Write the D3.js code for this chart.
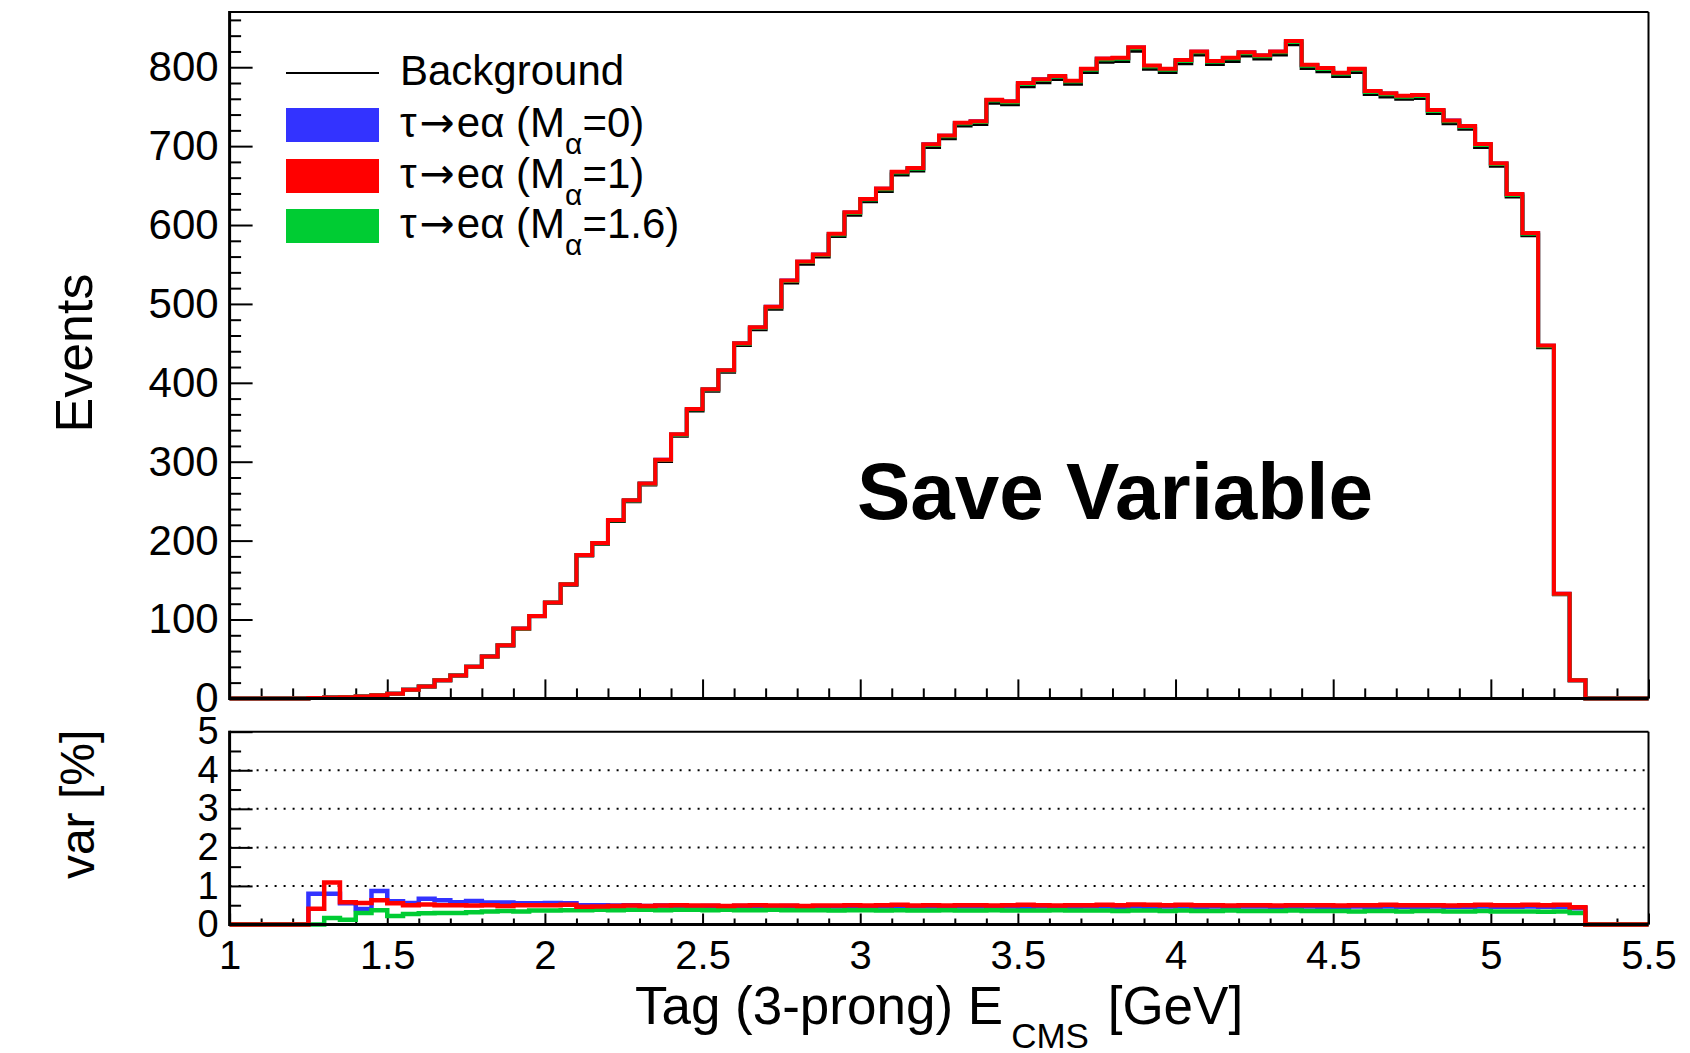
<!DOCTYPE html>
<html>
<head>
<meta charset="utf-8">
<script src="https://cdn.jsdelivr.net/npm/d3@7"></script>
<style>
  html, body { margin: 0; padding: 0; background: #fff; }
  svg { display: block; }
</style>
</head>
<body>
<div id="d3-container"></div>
<script>
// bin layout: 90 bins of 0.05 GeV from 1 to 5.5
const xMin = 1, xMax = 5.5, binWidth = 0.05;
const binLow = d3.range(90).map(i => xMin + i * binWidth);

// background events per bin
const background = [
  0, 0, 0, 0, 0, 0.5, 1, 1.5, 2.5, 4,
  6, 11, 15, 23, 29, 40, 53, 67, 88, 104,
  121, 144, 181, 196, 225, 250, 271, 301, 333, 365,
  390, 414, 448, 468, 494, 527, 551, 560, 586, 613,
  630, 643, 664, 669, 699, 710, 726, 728, 755, 753,
  776, 781, 785, 779, 794, 807, 808, 821, 798, 794,
  805, 816, 804, 808, 815, 811, 816, 829, 799, 795,
  789, 794, 766, 763, 760, 761, 742, 729, 722, 699,
  675, 636, 587, 445, 132, 23, 0, 0, 0, 0
];

// signal variation in % of background
const varM0 = [
  0, 0, 0, 0, 0, 0.80, 0.80, 0.55, 0.40, 0.87,
  0.60, 0.56, 0.67, 0.63, 0.58, 0.61, 0.57, 0.57, 0.55, 0.55,
  0.56, 0.55, 0.50, 0.50, 0.49, 0.50, 0.48, 0.49, 0.48, 0.47,
  0.48, 0.47, 0.48, 0.47, 0.47, 0.48, 0.47, 0.46, 0.47, 0.47,
  0.46, 0.47, 0.48, 0.47, 0.47, 0.46, 0.47, 0.47, 0.46, 0.47,
  0.46, 0.47, 0.47, 0.46, 0.47, 0.47, 0.46, 0.47, 0.46, 0.47,
  0.47, 0.46, 0.47, 0.46, 0.47, 0.47, 0.46, 0.46, 0.47, 0.46,
  0.46, 0.47, 0.46, 0.47, 0.46, 0.46, 0.47, 0.46, 0.46, 0.47,
  0.46, 0.46, 0.47, 0.46, 0.46, 0.42, 0, 0, 0, 0
];
const varM1 = [
  0, 0, 0, 0, 0, 0.41, 1.09, 0.58, 0.56, 0.63,
  0.55, 0.50, 0.52, 0.50, 0.50, 0.49, 0.50, 0.48, 0.50, 0.50,
  0.50, 0.51, 0.46, 0.47, 0.48, 0.49, 0.48, 0.49, 0.50, 0.49,
  0.49, 0.48, 0.49, 0.50, 0.49, 0.49, 0.48, 0.49, 0.49, 0.50,
  0.49, 0.50, 0.51, 0.49, 0.50, 0.49, 0.50, 0.50, 0.49, 0.50,
  0.51, 0.50, 0.49, 0.50, 0.50, 0.51, 0.50, 0.52, 0.51, 0.50,
  0.51, 0.50, 0.50, 0.49, 0.50, 0.50, 0.49, 0.50, 0.50, 0.50,
  0.49, 0.50, 0.50, 0.51, 0.50, 0.50, 0.50, 0.49, 0.50, 0.51,
  0.50, 0.50, 0.51, 0.50, 0.51, 0.45, 0, 0, 0, 0
];
const varM16 = [
  0, 0, 0, 0, 0, 0, 0.17, 0.12, 0.30, 0.37,
  0.22, 0.27, 0.29, 0.30, 0.30, 0.32, 0.34, 0.35, 0.34, 0.36,
  0.36, 0.37, 0.37, 0.38, 0.37, 0.38, 0.38, 0.37, 0.38, 0.38,
  0.37, 0.38, 0.37, 0.37, 0.38, 0.37, 0.37, 0.37, 0.36, 0.37,
  0.37, 0.36, 0.37, 0.36, 0.36, 0.37, 0.36, 0.36, 0.37, 0.36,
  0.36, 0.36, 0.37, 0.36, 0.36, 0.36, 0.35, 0.36, 0.36, 0.35,
  0.36, 0.35, 0.35, 0.36, 0.35, 0.35, 0.35, 0.36, 0.35, 0.35,
  0.35, 0.34, 0.35, 0.35, 0.34, 0.35, 0.35, 0.34, 0.34, 0.35,
  0.34, 0.34, 0.34, 0.33, 0.34, 0.30, 0, 0, 0, 0
];

const xTickLabels = ["1", "1.5", "2", "2.5", "3", "3.5", "4", "4.5", "5", "5.5"];
const yTickLabels = ["0", "100", "200", "300", "400", "500", "600", "700", "800"];
const ratioTickLabels = ["0", "1", "2", "3", "4", "5"];

const signalNames = ["0", "1", "1.6"];
const signalColors = ["#3333ff", "#ff0000", "#00cc33"];

document.addEventListener("DOMContentLoaded", function() {
  drawChart();
});

function drawChart() {
  const width = 1690, height = 1053;
  const font = "'Liberation Sans', Arial, Helvetica, sans-serif";

  const svg = d3.select('#d3-container')
    .append('svg')
    .attr('width', width)
    .attr('height', height)
    .attr('viewBox', [0, 0, width, height]);

  const left = 229.6, right = 1648.5;
  const mainTop = 12, mainBottom = 698.4;
  const ratioTop = 731.7, ratioBottom = 924.5;

  const x = d3.scaleLinear().domain([xMin, xMax]).range([left, right]);
  const y = d3.scaleLinear().domain([0, 870]).range([mainBottom, mainTop]);
  const yr = d3.scaleLinear().domain([0, 5]).range([ratioBottom, ratioTop]);

  const xMajor = xTickLabels.map(Number);
  const xMinor = d3.range(10, 56).map(d => d / 10).filter(d => Math.abs(d * 2 - Math.round(d * 2)) > 1e-6);

  // ---- main pad axes ----
  svg.append("g")
    .attr("transform", `translate(0,${mainBottom})`)
    .call(d3.axisBottom(x).tickValues(xMajor).tickSize(-19).tickFormat(""))
    .call(g => g.select(".domain").remove())
    .call(g => g.selectAll("line").attr("stroke-width", 2));
  svg.append("g")
    .attr("transform", `translate(0,${mainBottom})`)
    .call(d3.axisBottom(x).tickValues(xMinor).tickSize(-10).tickFormat(""))
    .call(g => g.select(".domain").remove())
    .call(g => g.selectAll("line").attr("stroke-width", 2));

  const yMajor = yTickLabels.map(Number);
  svg.append("g")
    .attr("transform", `translate(${left},0)`)
    .call(d3.axisLeft(y).tickValues(yMajor).tickSize(-23).tickPadding(11).tickFormat((d, i) => yTickLabels[i]))
    .call(g => g.select(".domain").remove())
    .call(g => g.selectAll("line").attr("stroke-width", 2))
    .call(g => g.selectAll("text").attr("font-size", 42).attr("font-family", font).attr("fill", "#000"));
  svg.append("g")
    .attr("transform", `translate(${left},0)`)
    .call(d3.axisLeft(y).tickValues(d3.range(20, 870, 20).filter(d => d % 100 != 0)).tickSize(-11.5).tickFormat(""))
    .call(g => g.select(".domain").remove())
    .call(g => g.selectAll("line").attr("stroke-width", 2));

  // ---- histograms main pad ----
  const step = d3.line()
    .x(d => x(d[0]))
    .curve(d3.curveStepAfter);

  function pts(vals) {
    const p = binLow.map((b, i) => [b, vals[i]]);
    p.push([xMax, vals[vals.length - 1]]);
    return p;
  }

  svg.append("path")
    .attr("d", step.y(d => y(d[1]))(pts(background)))
    .attr("fill", "none")
    .attr("stroke", "#000")
    .attr("stroke-width", 4);

  const variations = [varM0, varM1, varM16];
  [0, 2, 1].forEach(k => {
    const vals = background.map((b, i) => b * (1 + variations[k][i] / 100));
    svg.append("path")
      .attr("d", step.y(d => y(d[1]))(pts(vals)))
      .attr("fill", "none")
      .attr("stroke", signalColors[k])
      .attr("stroke-width", 4);
  });

  // main frame
  svg.append("line").attr("x1", left).attr("x2", right).attr("y1", mainTop).attr("y2", mainTop)
    .attr("stroke", "#000").attr("stroke-width", 2);
  svg.append("line").attr("x1", right).attr("x2", right).attr("y1", mainTop).attr("y2", mainBottom)
    .attr("stroke", "#000").attr("stroke-width", 2);
  svg.append("line").attr("x1", left).attr("x2", left).attr("y1", mainTop - 1).attr("y2", mainBottom + 1.5)
    .attr("stroke", "#000").attr("stroke-width", 3);
  svg.append("line").attr("x1", left).attr("x2", right).attr("y1", mainBottom).attr("y2", mainBottom)
    .attr("stroke", "#000").attr("stroke-width", 3);

  // ---- ratio pad ----
  svg.append("g")
    .selectAll("line")
    .data([1, 2, 3, 4])
    .join("line")
      .attr("x1", left).attr("x2", right)
      .attr("y1", d => yr(d)).attr("y2", d => yr(d))
      .attr("stroke", "#000")
      .attr("stroke-width", 2)
      .attr("stroke-dasharray", "2,7");

  svg.append("g")
    .attr("transform", `translate(0,${ratioBottom})`)
    .call(d3.axisBottom(x).tickValues(xMajor).tickSize(-11).tickPadding(16).tickFormat((d, i) => xTickLabels[i]))
    .call(g => g.select(".domain").remove())
    .call(g => g.selectAll("line").attr("stroke-width", 2))
    .call(g => g.selectAll("text").attr("font-size", 40).attr("font-family", font).attr("fill", "#000"));
  svg.append("g")
    .attr("transform", `translate(0,${ratioBottom})`)
    .call(d3.axisBottom(x).tickValues(xMinor).tickSize(-6).tickFormat(""))
    .call(g => g.select(".domain").remove())
    .call(g => g.selectAll("line").attr("stroke-width", 2));

  svg.append("g")
    .attr("transform", `translate(${left},0)`)
    .call(d3.axisLeft(yr).tickValues(ratioTickLabels.map(Number)).tickSize(-23).tickPadding(11).tickFormat((d, i) => ratioTickLabels[i]))
    .call(g => g.select(".domain").remove())
    .call(g => g.selectAll("line").attr("stroke-width", 2))
    .call(g => g.selectAll("text").attr("font-size", 38).attr("font-family", font).attr("fill", "#000"));
  svg.append("g")
    .attr("transform", `translate(${left},0)`)
    .call(d3.axisLeft(yr).tickValues([0.5, 1.5, 2.5, 3.5, 4.5]).tickSize(-11.5).tickFormat(""))
    .call(g => g.select(".domain").remove())
    .call(g => g.selectAll("line").attr("stroke-width", 2));

  [0, 2, 1].forEach(k => {
    svg.append("path")
      .attr("d", step.y(d => yr(d[1]))(pts(variations[k])))
      .attr("fill", "none")
      .attr("stroke", signalColors[k])
      .attr("stroke-width", 4.5);
  });

  svg.append("line").attr("x1", left).attr("x2", right).attr("y1", ratioTop).attr("y2", ratioTop)
    .attr("stroke", "#000").attr("stroke-width", 2);
  svg.append("line").attr("x1", right).attr("x2", right).attr("y1", ratioTop).attr("y2", ratioBottom)
    .attr("stroke", "#000").attr("stroke-width", 2);
  svg.append("line").attr("x1", left).attr("x2", left).attr("y1", ratioTop - 1).attr("y2", ratioBottom + 1.5)
    .attr("stroke", "#000").attr("stroke-width", 3);
  svg.append("line").attr("x1", left).attr("x2", right).attr("y1", ratioBottom).attr("y2", ratioBottom)
    .attr("stroke", "#000").attr("stroke-width", 3);

  // ---- titles ----
  svg.append("text")
    .attr("transform", "translate(92,353) rotate(-90)")
    .attr("text-anchor", "middle")
    .attr("font-family", font).attr("font-size", 52)
    .text("Events");

  svg.append("text")
    .attr("transform", `translate(94,${ratioTop - 2}) rotate(-90)`)
    .attr("text-anchor", "end")
    .attr("font-family", font).attr("font-size", 48)
    .text("var [%]");

  const xt = svg.append("text")
    .attr("x", (left + right) / 2)
    .attr("y", 1024)
    .attr("text-anchor", "middle")
    .attr("font-family", font).attr("font-size", 53);
  xt.append("tspan").text("Tag (3-prong) E");
  xt.append("tspan").attr("dx", 8).attr("dy", 24).attr("font-size", 35).text("CMS");
  xt.append("tspan").attr("dx", 4).attr("dy", -24).text(" [GeV]");

  svg.append("text")
    .attr("x", 857).attr("y", 519)
    .attr("font-family", font).attr("font-size", 80).attr("font-weight", "bold")
    .text("Save Variable");

  // ---- legend ----
  const legX = 286, legW = 93, textX = 400;
  const rowY = [73, 125, 176, 226];

  svg.append("line")
    .attr("x1", legX).attr("x2", legX + legW)
    .attr("y1", rowY[0]).attr("y2", rowY[0])
    .attr("stroke", "#000").attr("stroke-width", 2);
  svg.append("text")
    .attr("x", textX).attr("y", rowY[0] + 12)
    .attr("font-family", font).attr("font-size", 42)
    .text("Background");

  signalNames.forEach((m, k) => {
    const cy = rowY[k + 1];
    svg.append("rect")
      .attr("x", legX).attr("y", cy - 17)
      .attr("width", legW).attr("height", 34)
      .attr("fill", signalColors[k]);
    const t = svg.append("text")
      .attr("x", textX).attr("y", cy + 12)
      .attr("font-family", font).attr("font-size", 42);
    t.append("tspan").text("τ");
    t.append("tspan").attr("dx", 3).attr("font-family", "'DejaVu Sans', sans-serif").attr("font-size", 42).text("→");
    t.append("tspan").attr("dx", 2).text("eα (M");
    t.append("tspan").attr("dy", 17).attr("font-size", 30).text("α");
    t.append("tspan").attr("dy", -17).text("=" + m + ")");
  });
}
</script>
</body>
</html>
